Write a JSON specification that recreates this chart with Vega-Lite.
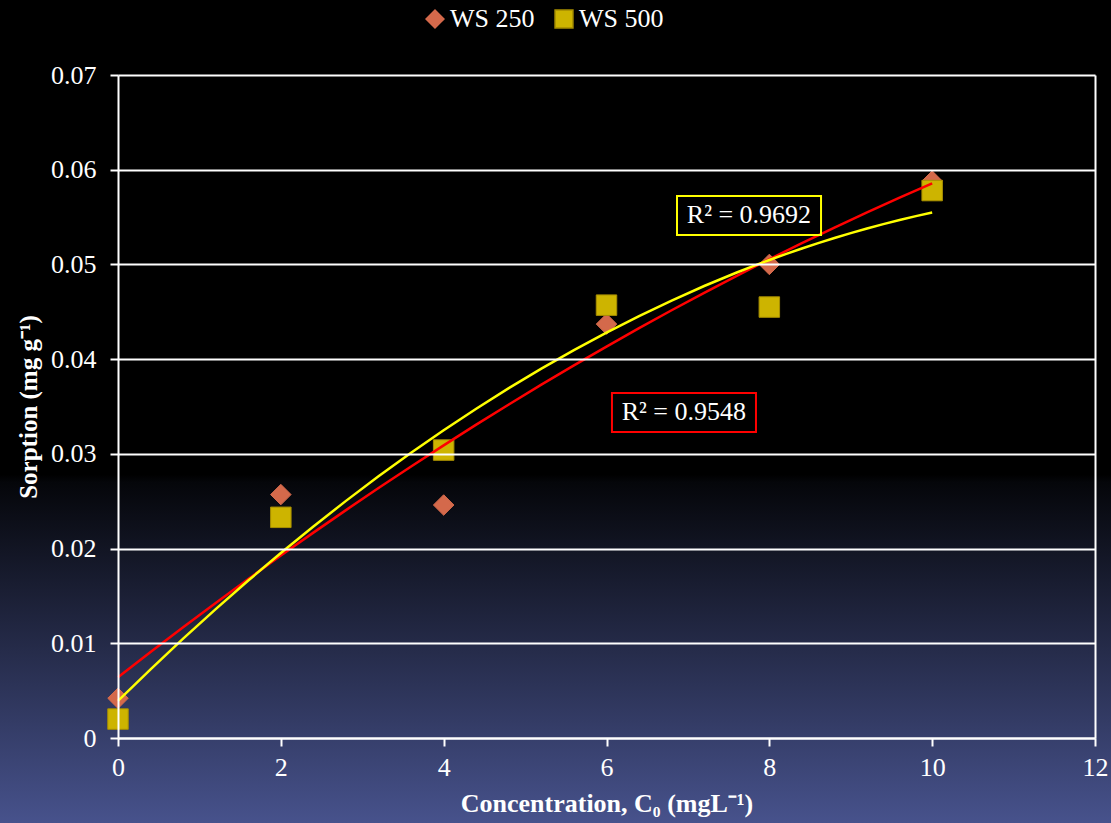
{
  "$schema": "https://vega.github.io/schema/vega-lite/v6.json",
  "width": 977,
  "height": 663,
  "autosize": {"type": "none"},
  "padding": {"left": 118, "top": 75, "right": 16, "bottom": 85},
  "background": "#000000",
  "config": {
    "view": {"stroke": null},
    "font": "Liberation Serif",
    "axis": {
      "domainColor": "#ffffff",
      "domainWidth": 2,
      "tickColor": "#ffffff",
      "tickWidth": 2,
      "tickSize": 8,
      "labelColor": "#ffffff",
      "labelFont": "Liberation Serif",
      "labelFontSize": 26,
      "labelFlush": false,
      "labelOverlap": false,
      "titleColor": "#ffffff",
      "titleFont": "Liberation Serif",
      "titleFontWeight": "bold",
      "gridColor": "#ffffff",
      "gridWidth": 2,
      "gridOpacity": 1
    }
  },
  "datasets": {
    "points": [
      {"series": "WS 250", "x": 0, "y": 0.0042},
      {"series": "WS 250", "x": 2, "y": 0.0257},
      {"series": "WS 250", "x": 4, "y": 0.0246},
      {"series": "WS 250", "x": 6, "y": 0.0437},
      {"series": "WS 250", "x": 8, "y": 0.05},
      {"series": "WS 250", "x": 10, "y": 0.0588},
      {"series": "WS 500", "x": 0, "y": 0.002},
      {"series": "WS 500", "x": 2, "y": 0.0233},
      {"series": "WS 500", "x": 4, "y": 0.0304},
      {"series": "WS 500", "x": 6, "y": 0.0457},
      {"series": "WS 500", "x": 8, "y": 0.0455},
      {"series": "WS 500", "x": 10, "y": 0.0578}
    ],
    "labels": [
      {"series": "WS 500", "label": "R² = 0.9692", "x1": 6.866, "x2": 8.635, "y1": 0.05311, "y2": 0.05722, "xc": 7.75, "yc": 0.05517},
      {"series": "WS 250", "label": "R² = 0.9548", "x1": 6.067, "x2": 7.836, "y1": 0.03231, "y2": 0.03643, "xc": 6.95, "yc": 0.03437}
    ]
  },
  "layer": [
    {
      "data": {"values": [{}]},
      "mark": {
        "type": "rect",
        "clip": false,
        "fill": {
          "gradient": "linear",
          "x1": 0, "y1": 0, "x2": 0, "y2": 1,
          "stops": [
            {"offset": 0, "color": "#000000"},
            {"offset": 0.572, "color": "#000000"},
            {"offset": 0.58, "color": "#05060a"},
            {"offset": 0.9397, "color": "#47528c"},
            {"offset": 1, "color": "#515e9f"}
          ]
        }
      },
      "encoding": {
        "x": {
          "datum": -2, "type": "quantitative",
          "scale": {"domain": [0, 12], "nice": false},
          "axis": {
            "zindex": 1,
            "values": [0, 2, 4, 6, 8, 10, 12],
            "format": "d",
            "title": "Concentration, C₀ (mgL⁻¹)",
            "titleFontSize": 26,
            "titlePadding": 10,
            "labelPadding": 8,
            "grid": true,
            "gridOpacity": {"condition": {"test": "datum.value === 12", "value": 1}, "value": 0}
          }
        },
        "x2": {"datum": 13},
        "y": {
          "datum": -0.015, "type": "quantitative",
          "scale": {"domain": [0, 0.07], "nice": false},
          "axis": {
            "zindex": 1,
            "values": [0, 0.01, 0.02, 0.03, 0.04, 0.05, 0.06, 0.07],
            "labelExpr": "datum.value === 0 ? '0' : format(datum.value, '.2f')",
            "title": "Sorption (mg g⁻¹)",
            "titleFontSize": 25,
            "titlePadding": 9,
            "labelPadding": 14,
            "grid": true
          }
        },
        "y2": {"datum": 0.085}
      }
    },
    {
      "data": {"name": "points"},
      "mark": {"type": "point", "filled": true, "opacity": 1, "strokeWidth": 1, "size": 420},
      "encoding": {
        "x": {"field": "x", "type": "quantitative"},
        "y": {"field": "y", "type": "quantitative"},
        "color": {
          "field": "series", "type": "nominal",
          "scale": {"domain": ["WS 250", "WS 500"], "range": ["#d4694b", "#cdb400"]},
          "legend": {
            "title": null,
            "orient": "none",
            "direction": "horizontal",
            "legendX": 304,
            "legendY": -69,
            "labelColor": "#ffffff",
            "labelFont": "Liberation Serif",
            "labelFontSize": 26,
            "labelOffset": 2,
            "columnPadding": 16,
            "symbolSize": 320,
            "symbolOpacity": 1
          }
        },
        "shape": {
          "field": "series", "type": "nominal",
          "scale": {"domain": ["WS 250", "WS 500"], "range": ["diamond", "square"]}
        },
        "stroke": {
          "field": "series", "type": "nominal",
          "scale": {"domain": ["WS 250", "WS 500"], "range": ["#d4694b", "#a88f00"]}
        }
      }
    },
    {
      "data": {"name": "points"},
      "transform": [
        {"regression": "y", "on": "x", "groupby": ["series"], "method": "poly", "order": 2, "extent": [0, 10]}
      ],
      "mark": {"type": "line", "strokeWidth": 2.5},
      "encoding": {
        "x": {"field": "x", "type": "quantitative"},
        "y": {"field": "y", "type": "quantitative"},
        "detail": {"field": "series"},
        "color": {
          "condition": {"test": "datum.series === 'WS 250'", "value": "#ff0000"},
          "value": "#ffff00"
        }
      }
    },
    {
      "data": {"name": "labels"},
      "mark": {"type": "rect", "fillOpacity": 0, "strokeWidth": 2},
      "encoding": {
        "x": {"field": "x1", "type": "quantitative"},
        "x2": {"field": "x2"},
        "y": {"field": "y1", "type": "quantitative"},
        "y2": {"field": "y2"},
        "stroke": {
          "condition": {"test": "datum.series === 'WS 250'", "value": "#ff0000"},
          "value": "#ffff00"
        }
      }
    },
    {
      "data": {"name": "labels"},
      "mark": {"type": "text", "color": "#ffffff", "font": "Liberation Serif", "fontSize": 26, "align": "center", "baseline": "middle"},
      "encoding": {
        "x": {"field": "xc", "type": "quantitative"},
        "y": {"field": "yc", "type": "quantitative"},
        "text": {"field": "label"}
      }
    }
  ]
}
